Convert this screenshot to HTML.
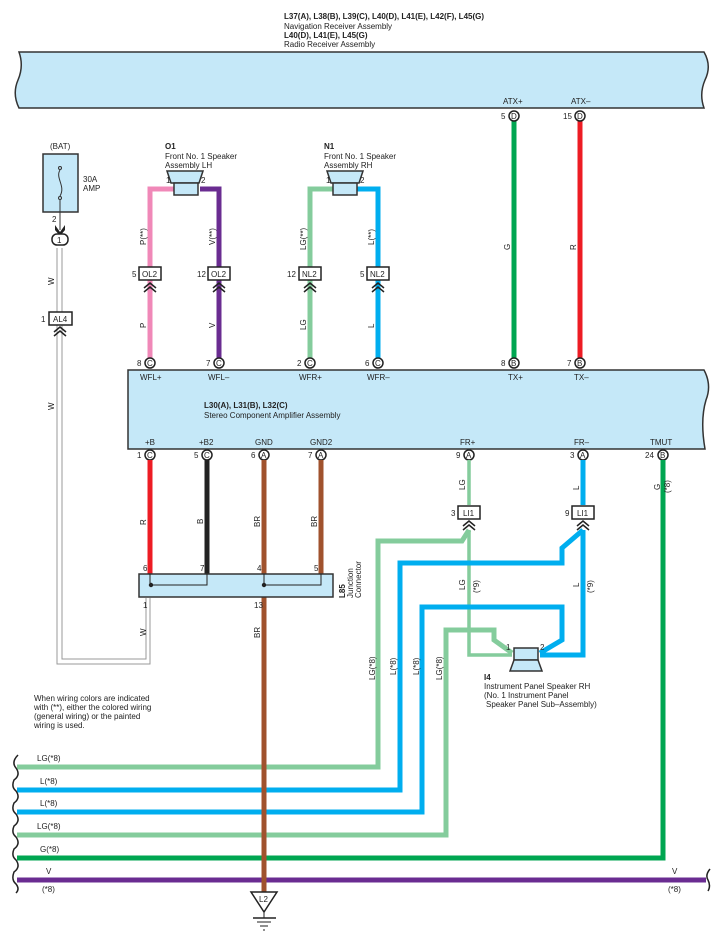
<!DOCTYPE html>
<html><head><meta charset="utf-8"><style>
html,body{margin:0;padding:0;background:#fff}
svg{display:block}
text{font-family:"Liberation Sans",sans-serif;font-size:8px;fill:#222}
.b{font-weight:bold}
</style></head><body>
<svg width="721" height="942" viewBox="0 0 721 942" xmlns="http://www.w3.org/2000/svg">
<!-- top box -->
<text x="284" y="19" class="b">L37(A), L38(B), L39(C), L40(D), L41(E), L42(F), L45(G)</text>
<text x="284" y="29">Navigation Receiver Assembly</text>
<text x="284" y="38" class="b">L40(D), L41(E), L45(G)</text>
<text x="284" y="47">Radio Receiver Assembly</text>
<path d="M19 52 L704 52 Q712 66 705 80 Q699 94 704 108 L19 108 Q12 94 18 80 Q24 66 19 52 Z" fill="#c5e8f8" stroke="#333" stroke-width="1.5"/>
<text x="503" y="104">ATX+</text><text x="571" y="104">ATX–</text>

<!-- green/red nav wires -->
<line x1="514" y1="120" x2="514" y2="358" stroke="#00a651" stroke-width="5"/>
<line x1="580" y1="120" x2="580" y2="358" stroke="#ed1c24" stroke-width="5"/>
<text x="0" y="0" transform="translate(510,250) rotate(-90)">G</text>
<text x="0" y="0" transform="translate(576,250) rotate(-90)">R</text>

<!-- W double wire -->
<path d="M57 248 V664 H150 V598 M62 248 V659 H146 V598" fill="none" stroke="#999" stroke-width="1"/>
<text transform="translate(54,285) rotate(-90)">W</text>
<text transform="translate(54,410) rotate(-90)">W</text>
<text transform="translate(146,636) rotate(-90)">W</text>

<!-- fuse -->
<text x="50" y="149">(BAT)</text>
<rect x="43" y="154" width="35" height="58" fill="#c5e8f8" stroke="#333" stroke-width="1.5"/>
<path d="M60 170 C55 178 66 186 60 196" fill="none" stroke="#333"/>
<circle cx="60" cy="168" r="1.5" fill="none" stroke="#333"/><circle cx="60" cy="198" r="1.5" fill="none" stroke="#333"/>
<line x1="60" y1="200" x2="60" y2="230" stroke="#333"/>
<text x="83" y="182">30A</text><text x="83" y="191">AMP</text>
<text x="52" y="222">2</text>
<path d="M55 225 L60 232 L65 225 L65 230 L60 236 L55 230Z" fill="#222"/>
<rect x="52" y="234" width="16" height="11" rx="5" fill="#fff" stroke="#222" stroke-width="1.5"/><text x="57" y="243">1</text>
<text x="41" y="322">1</text>
<rect x="49" y="312" width="23" height="13" fill="#fff" stroke="#222" stroke-width="1.5"/><text x="53" y="322">AL4</text>
<path d="M54 332 L60 327 L66 332 M54 336 L60 331 L66 336" fill="none" stroke="#222" stroke-width="1.5"/>

<!-- O1 speaker -->
<text x="165" y="149" class="b">O1</text><text x="165" y="159">Front No.  1 Speaker</text><text x="165" y="168">Assembly LH</text>
<path d="M150 358 V189 H175 M219 358 V189 H200" fill="none" stroke="#f088b8" stroke-width="5"/>
<path d="M219 358 V189 H200" fill="none" stroke="#6a2c91" stroke-width="5"/>
<line x1="150" y1="189" x2="175" y2="189" stroke="#f088b8" stroke-width="5"/>
<path d="M167 171 L203 171 L199 183 L171 183Z" fill="#c5e8f8" stroke="#333" stroke-width="1.5"/>
<rect x="174" y="183" width="24" height="12" fill="#c5e8f8" stroke="#333" stroke-width="1.5"/>
<text x="166" y="183">1</text><text x="201" y="183">2</text>
<text transform="translate(146,245) rotate(-90)">P(**)</text>
<text transform="translate(215,245) rotate(-90)">V(**)</text>
<text transform="translate(146,328) rotate(-90)">P</text>
<text transform="translate(215,328) rotate(-90)">V</text>

<!-- N1 speaker -->
<text x="324" y="149" class="b">N1</text><text x="324" y="159">Front No.  1 Speaker</text><text x="324" y="168">Assembly RH</text>
<path d="M310 358 V189 H335" fill="none" stroke="#84cc9c" stroke-width="5"/>
<path d="M378 358 V189 H355" fill="none" stroke="#00aeef" stroke-width="5"/>
<path d="M327 171 L363 171 L359 183 L331 183Z" fill="#c5e8f8" stroke="#333" stroke-width="1.5"/>
<rect x="333" y="183" width="24" height="12" fill="#c5e8f8" stroke="#333" stroke-width="1.5"/>
<text x="326" y="183">1</text><text x="360" y="183">2</text>
<text transform="translate(306,250) rotate(-90)">LG(**)</text>
<text transform="translate(374,245) rotate(-90)">L(**)</text>
<text transform="translate(306,330) rotate(-90)">LG</text>
<text transform="translate(374,328) rotate(-90)">L</text>

<!-- inline connectors OL2/NL2 -->
<g stroke="#222" stroke-width="1.5">
<rect x="139" y="267" width="22" height="13" fill="#fff"/><rect x="208" y="267" width="22" height="13" fill="#fff"/>
<rect x="299" y="267" width="22" height="13" fill="#fff"/><rect x="367" y="267" width="22" height="13" fill="#fff"/>
<path fill="none" d="M144 288 L150 283 L156 288 M144 292 L150 287 L156 292 M213 288 L219 283 L225 288 M213 292 L219 287 L225 292 M304 288 L310 283 L316 288 M304 292 L310 287 L316 292 M372 288 L378 283 L384 288 M372 292 L378 287 L384 292"/>
</g>
<text x="142" y="277">OL2</text><text x="211" y="277">OL2</text><text x="302" y="277">NL2</text><text x="370" y="277">NL2</text>
<text x="132" y="277">5</text><text x="197" y="277">12</text><text x="287" y="277">12</text><text x="360" y="277">5</text>

<!-- pin circles top of amp -->
<g fill="#fff" stroke="#222" stroke-width="1.5">
<circle cx="514" cy="116" r="5"/><circle cx="580" cy="116" r="5"/>
<circle cx="150" cy="363" r="5"/><circle cx="219" cy="363" r="5"/><circle cx="310" cy="363" r="5"/><circle cx="378" cy="363" r="5"/><circle cx="514" cy="363" r="5"/><circle cx="580" cy="363" r="5"/>
<circle cx="150" cy="455" r="5"/><circle cx="207" cy="455" r="5"/><circle cx="264" cy="455" r="5"/><circle cx="321" cy="455" r="5"/><circle cx="469" cy="455" r="5"/><circle cx="583" cy="455" r="5"/><circle cx="663" cy="455" r="5"/>
</g>
<g style="font-size:7px">
<text x="511" y="119">D</text><text x="577" y="119">D</text>
<text x="147" y="366">C</text><text x="216" y="366">C</text><text x="307" y="366">C</text><text x="375" y="366">C</text><text x="511" y="366">B</text><text x="577" y="366">B</text>
<text x="147" y="458">C</text><text x="204" y="458">C</text><text x="261" y="458">A</text><text x="318" y="458">A</text><text x="466" y="458">A</text><text x="580" y="458">A</text><text x="660" y="458">B</text>
</g>
<text x="501" y="119">5</text><text x="563" y="119">15</text>
<text x="137" y="366">8</text><text x="206" y="366">7</text><text x="297" y="366">2</text><text x="365" y="366">6</text><text x="501" y="366">8</text><text x="567" y="366">7</text>
<text x="137" y="458">1</text><text x="194" y="458">5</text><text x="251" y="458">6</text><text x="308" y="458">7</text><text x="456" y="458">9</text><text x="570" y="458">3</text><text x="645" y="458">24</text>

<!-- amp box -->
<path d="M128 370 L704 370 Q712 385 706 400 Q700 420 705 449 L128 449 Z" fill="#c5e8f8" stroke="#333" stroke-width="1.5"/>
<text x="140" y="380">WFL+</text><text x="208" y="380">WFL–</text><text x="299" y="380">WFR+</text><text x="367" y="380">WFR–</text><text x="508" y="380">TX+</text><text x="574" y="380">TX–</text>
<text x="204" y="408" class="b">L30(A), L31(B), L32(C)</text><text x="204" y="418">Stereo Component Amplifier Assembly</text>
<text x="145" y="445">+B</text><text x="199" y="445">+B2</text><text x="255" y="445">GND</text><text x="310" y="445">GND2</text><text x="460" y="445">FR+</text><text x="574" y="445">FR–</text><text x="650" y="445">TMUT</text>

<!-- bottom bus lines -->
<path d="M469 460 V505 M469 530 V655 H512" fill="none" stroke="#84cc9c" stroke-width="3.5"/>
<path d="M469 530 L462 541 H378 V767 H17" fill="none" stroke="#84cc9c" stroke-width="5"/>
<path d="M583 460 V505 M583 530 V655 H540" fill="none" stroke="#00aeef" stroke-width="5"/>
<path d="M583 530 L562 548 V563 H400 V790 H17" fill="none" stroke="#00aeef" stroke-width="5"/>
<path d="M540 653 L562 640 V607 H422 V812 H17" fill="none" stroke="#00aeef" stroke-width="5"/>
<path d="M512 653 L494 640 V630 H446 V835 H17" fill="none" stroke="#84cc9c" stroke-width="5"/>
<path d="M663 460 V858 H17" fill="none" stroke="#00a651" stroke-width="5"/>
<line x1="17" y1="880" x2="706" y2="880" stroke="#6a2c91" stroke-width="5"/>

<!-- amp bottom wires -->
<line x1="150" y1="460" x2="150" y2="574" stroke="#ed1c24" stroke-width="5"/>
<line x1="207" y1="460" x2="207" y2="574" stroke="#222" stroke-width="5"/>
<line x1="321" y1="460" x2="321" y2="574" stroke="#a0522d" stroke-width="5"/>
<line x1="264" y1="460" x2="264" y2="893" stroke="#a0522d" stroke-width="5"/>
<text transform="translate(146,525) rotate(-90)">R</text>
<text transform="translate(203,524) rotate(-90)">B</text>
<text transform="translate(260,527) rotate(-90)">BR</text>
<text transform="translate(317,527) rotate(-90)">BR</text>
<text transform="translate(260,638) rotate(-90)">BR</text>

<!-- junction connector -->
<rect x="139" y="574" width="194" height="23" fill="#c5e8f8" stroke="#333" stroke-width="1.5"/>
<path d="M150 574 V585 H207 V574 M264 574 V585 H321 V574" fill="none" stroke="#222"/>
<circle cx="151" cy="585" r="2.2" fill="#222"/><circle cx="264" cy="585" r="2.2" fill="#222"/>
<text x="143" y="571">6</text><text x="200" y="571">7</text><text x="257" y="571">4</text><text x="314" y="571">5</text>
<text x="143" y="608">1</text><text x="254" y="608">13</text>
<text transform="translate(345,598) rotate(-90)" class="b">L85</text>
<text transform="translate(353,598) rotate(-90)">Junction</text>
<text transform="translate(361,598) rotate(-90)">Connector</text>

<!-- LI1 -->
<rect x="458" y="506" width="22" height="13" fill="#fff" stroke="#222" stroke-width="1.5"/>
<rect x="572" y="506" width="22" height="13" fill="#fff" stroke="#222" stroke-width="1.5"/>
<text x="463" y="516">LI1</text><text x="577" y="516">LI1</text>
<text x="451" y="516">3</text><text x="565" y="516">9</text>
<path d="M463 526 L469 521 L475 526 M463 530 L469 525 L475 530 M577 526 L583 521 L589 526 M577 530 L583 525 L589 530" fill="none" stroke="#222" stroke-width="1.5"/>
<text transform="translate(465,490) rotate(-90)">LG</text>
<text transform="translate(579,490) rotate(-90)">L</text>
<text transform="translate(660,490) rotate(-90)">G</text>
<text transform="translate(670,493) rotate(-90)">(*8)</text>
<text transform="translate(465,590) rotate(-90)">LG</text><text transform="translate(479,593) rotate(-90)">(*9)</text>
<text transform="translate(579,587) rotate(-90)">L</text><text transform="translate(593,593) rotate(-90)">(*9)</text>
<text transform="translate(375,680) rotate(-90)">LG(*8)</text>
<text transform="translate(396,675) rotate(-90)">L(*8)</text>
<text transform="translate(419,675) rotate(-90)">L(*8)</text>
<text transform="translate(442,680) rotate(-90)">LG(*8)</text>

<!-- I4 speaker -->
<rect x="514" y="648" width="24" height="12" fill="#c5e8f8" stroke="#333" stroke-width="1.5"/>
<path d="M514 660 L538 660 L542 671 L510 671Z" fill="#c5e8f8" stroke="#333" stroke-width="1.5"/>
<text x="506" y="650">1</text><text x="540" y="650">2</text>
<text x="484" y="680" class="b">I4</text>
<text x="484" y="689">Instrument Panel Speaker RH</text>
<text x="484" y="698">(No.  1 Instrument Panel</text>
<text x="486" y="707"> Speaker Panel Sub–Assembly)</text>

<text x="34" y="701">When wiring colors are indicated</text>
<text x="34" y="710">with (**),  either the colored wiring</text>
<text x="34" y="719">(general wiring) or the painted</text>
<text x="34" y="728">wiring is used.</text>

<text x="37" y="761">LG(*8)</text><text x="40" y="784">L(*8)</text><text x="40" y="806">L(*8)</text><text x="37" y="829">LG(*8)</text><text x="40" y="852">G(*8)</text>
<text x="46" y="874">V</text><text x="42" y="892">(*8)</text>
<text x="672" y="874">V</text><text x="668" y="892">(*8)</text>
<path d="M18 755 Q11 762 16 768 Q21 775 14 780 Q11 787 16 791 Q21 798 14 803 Q11 810 16 814 Q21 821 14 826 Q11 833 16 837 Q21 844 14 849 Q11 856 16 860 Q21 867 14 872 Q11 880 16 884 Q20 889 16 893" fill="none" stroke="#222" stroke-width="1.5"/>
<path d="M710 869 Q705 875 708 880 Q711 886 708 891" fill="none" stroke="#222" stroke-width="1.5"/>

<!-- ground -->
<path d="M251 892 L277 892 L264 912Z" fill="#fff" stroke="#222" stroke-width="1.5"/>
<text x="259" y="902">L2</text>
<line x1="264" y1="912" x2="264" y2="918" stroke="#222"/>
<line x1="253" y1="918" x2="276" y2="918" stroke="#222" stroke-width="1.5"/>
<line x1="257" y1="922" x2="271" y2="922" stroke="#222"/>
<line x1="260" y1="926" x2="268" y2="926" stroke="#222"/>
<line x1="263" y1="930" x2="265" y2="930" stroke="#222"/>
</svg>
</body></html>
